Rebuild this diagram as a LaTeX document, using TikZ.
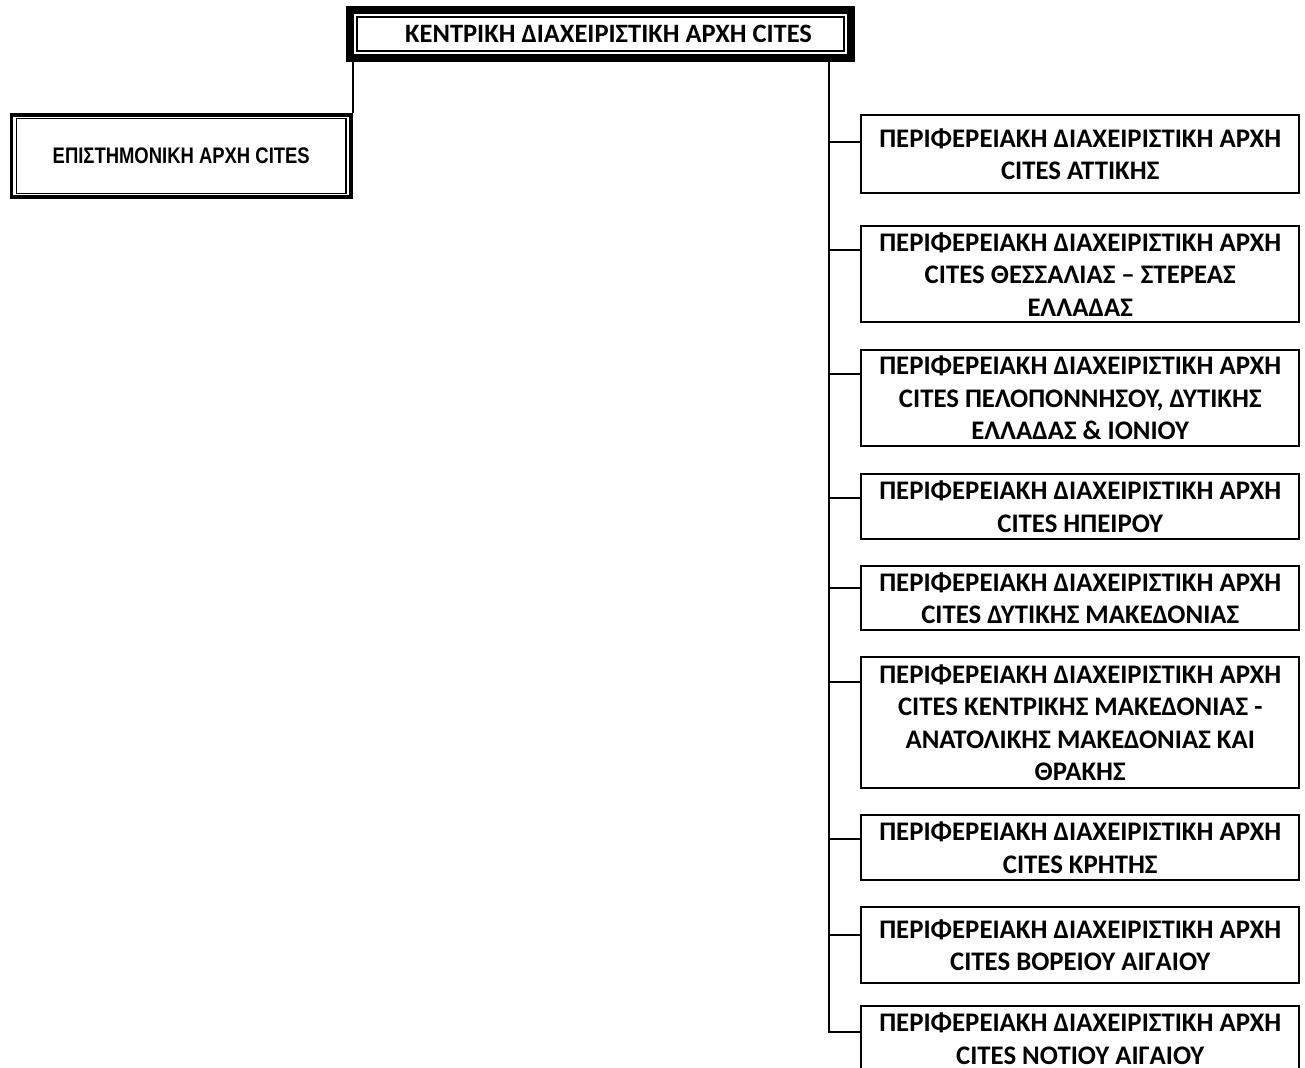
\documentclass[tikz,border=0pt]{standalone}
\usepackage{fontspec}
\setmainfont{Carlito}
\newfontfamily\narrowfont[FakeStretch=0.82]{Liberation Sans}
\usetikzlibrary{calc}

\begin{document}
\begin{tikzpicture}[x=0.5pt, y=-0.5pt,
    region/.style={draw, line width=1.2pt, inner sep=0pt, align=center,
        minimum width=219pt, anchor=north west,
        font=\bfseries\fontsize{13.4}{16.25}\selectfont},
    link/.style={line width=1pt}]
% page frame, one unit = one pixel of the reference
\useasboundingbox (0,0) rectangle (1305,1068);

% central authority, thick outer frame and thin inner frame
\node [draw, line width=4pt, minimum width=250.5pt, minimum height=24pt] (cites) at (600.5,34) {};
\node [draw, line width=0.6pt, minimum width=243.5pt, minimum height=17pt, inner sep=0pt,
       font=\bfseries\fontsize{13.25}{15}\selectfont] (citestext) at (600.5,34) {\hspace*{8pt}ΚΕΝΤΡΙΚΗ ΔΙΑΧΕΙΡΙΣΤΙΚΗ ΑΡΧΗ CITES};

% scientific authority
\node [draw, line width=1.75pt, minimum width=169.75pt, minimum height=41pt] (sci) at (181.25,156) {};
\node [draw, line width=0.6pt, minimum width=164.75pt, minimum height=37.5pt, inner sep=0pt,
       font=\narrowfont\bfseries\fontsize{11.25}{13}\selectfont] (scitext) at (181.25,156) {ΕΠΙΣΤΗΜΟΝΙΚΗ ΑΡΧΗ CITES};

% regional authorities
\node [region, minimum height=39pt] (r1) at (860,114) {ΠΕΡΙΦΕΡΕΙΑΚΗ ΔΙΑΧΕΙΡΙΣΤΙΚΗ ΑΡΧΗ\\CITES ΑΤΤΙΚΗΣ};
\node [region, minimum height=48pt] (r2) at (860,225) {ΠΕΡΙΦΕΡΕΙΑΚΗ ΔΙΑΧΕΙΡΙΣΤΙΚΗ ΑΡΧΗ\\CITES ΘΕΣΣΑΛΙΑΣ – ΣΤΕΡΕΑΣ\\ΕΛΛΑΔΑΣ};
\node [region, minimum height=48pt] (r3) at (860,349) {ΠΕΡΙΦΕΡΕΙΑΚΗ ΔΙΑΧΕΙΡΙΣΤΙΚΗ ΑΡΧΗ\\CITES ΠΕΛΟΠΟΝΝΗΣΟΥ, ΔΥΤΙΚΗΣ\\ΕΛΛΑΔΑΣ \& ΙΟΝΙΟΥ};
\node [region, minimum height=32.5pt] (r4) at (860,473) {ΠΕΡΙΦΕΡΕΙΑΚΗ ΔΙΑΧΕΙΡΙΣΤΙΚΗ ΑΡΧΗ\\CITES ΗΠΕΙΡΟΥ};
\node [region, minimum height=32pt] (r5) at (860,565) {ΠΕΡΙΦΕΡΕΙΑΚΗ ΔΙΑΧΕΙΡΙΣΤΙΚΗ ΑΡΧΗ\\CITES ΔΥΤΙΚΗΣ ΜΑΚΕΔΟΝΙΑΣ};
\node [region, minimum height=65.5pt] (r6) at (860,656) {ΠΕΡΙΦΕΡΕΙΑΚΗ ΔΙΑΧΕΙΡΙΣΤΙΚΗ ΑΡΧΗ\\CITES ΚΕΝΤΡΙΚΗΣ ΜΑΚΕΔΟΝΙΑΣ -\\ΑΝΑΤΟΛΙΚΗΣ ΜΑΚΕΔΟΝΙΑΣ ΚΑΙ\\ΘΡΑΚΗΣ};
\node [region, minimum height=32.5pt] (r7) at (860,814) {ΠΕΡΙΦΕΡΕΙΑΚΗ ΔΙΑΧΕΙΡΙΣΤΙΚΗ ΑΡΧΗ\\CITES ΚΡΗΤΗΣ};
\node [region, minimum height=38pt] (r8) at (860,906) {ΠΕΡΙΦΕΡΕΙΑΚΗ ΔΙΑΧΕΙΡΙΣΤΙΚΗ ΑΡΧΗ\\CITES ΒΟΡΕΙΟΥ ΑΙΓΑΙΟΥ};
\node [region, minimum height=32.5pt] (r9) at (860,1005) {ΠΕΡΙΦΕΡΕΙΑΚΗ ΔΙΑΧΕΙΡΙΣΤΙΚΗ ΑΡΧΗ\\CITES ΝΟΤΙΟΥ ΑΙΓΑΙΟΥ};

% connectors
\coordinate (trunk) at (829,1032);
\draw [link] (sci.north east) -- (sci.north east |- cites.south);
\draw [link, line width=1.2pt] (cites.south -| trunk) -- (trunk) -- ([yshift=-13.5pt]r9.north west);
\draw [link] ([yshift=-14pt]r1.north west) -- ++(-30,0);
\draw [link] ([yshift=-12.5pt]r2.north west) -- ++(-30,0);
\draw [link] ([yshift=-12.5pt]r3.north west) -- ++(-30,0);
\draw [link] ([yshift=-12.5pt]r4.north west) -- ++(-30,0);
\draw [link] ([yshift=-11.5pt]r5.north west) -- ++(-30,0);
\draw [link] ([yshift=-13pt]r6.north west) -- ++(-30,0);
\draw [link] ([yshift=-12.5pt]r7.north west) -- ++(-30,0);
\draw [link] ([yshift=-14.5pt]r8.north west) -- ++(-30,0);
\end{tikzpicture}
\end{document}
